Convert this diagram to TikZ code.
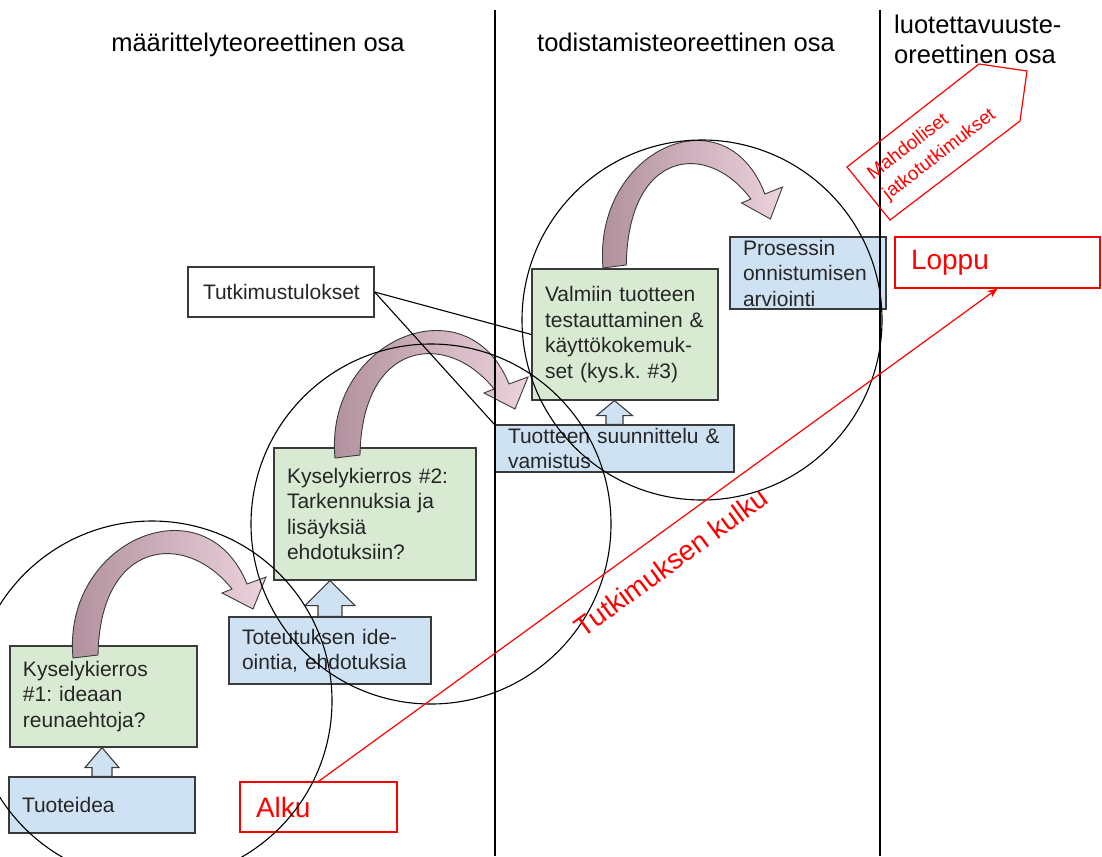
\documentclass[tikz,border=0pt]{standalone}
\usepackage{fontspec}
\setmainfont{Liberation Sans}
\usetikzlibrary{calc,arrows.meta}
\definecolor{greenF}{HTML}{D9EAD3}
\definecolor{blueF}{HTML}{CFE2F3}
\definecolor{bord}{HTML}{3A3A3A}
\definecolor{txt}{HTML}{262626}
\definecolor{redC}{HTML}{FF0000}
\definecolor{mauveD}{HTML}{AE8E9A}
\definecolor{pinkL}{HTML}{ECD2DD}
\frenchspacing
\newcommand\blockup[5]{%
  \draw[blockarr] let \p1=(#1.north), \p2=(#2.south) in
   (\x1-#3pt,\y1) -- (\x1-#3pt,\y2-#5pt) -- (\x1-#4pt,\y2-#5pt) -- (\x1,\y2)
   -- (\x1+#4pt,\y2-#5pt) -- (\x1+#3pt,\y2-#5pt) -- (\x1+#3pt,\y1) -- cycle;}
\tikzset{
 boxbase/.style={rectangle, draw=bord, line width=1.2pt, text=txt,
   font=\fontsize{21}{25.5}\selectfont, align=left, inner xsep=13pt, inner ysep=0pt},
 gbox/.style={boxbase, fill=greenF},
 bbox/.style={boxbase, fill=blueF},
 wbox/.style={boxbase, fill=white, align=center},
 rbox/.style={rectangle, draw=redC, line width=1.2pt, text=redC,
   font=\fontsize{28}{30}\selectfont, align=left, inner xsep=16pt, inner ysep=0pt, fill=white},
 hdr/.style={font=\fontsize{25.5}{30}\selectfont, text=black, inner sep=0pt},
 vline/.style={draw=black, line width=1.3pt},
 ring/.style={draw=black, line width=1.1pt},
 link/.style={draw=black, line width=1.1pt},
 redline/.style={draw=redC, line width=1.2pt},
 blockarr/.style={draw=bord, line width=1.1pt, fill=blueF, line join=miter},
 curvarrow/.pic={
   \shadedraw[left color=mauveD, right color=pinkL, draw=bord, line width=0.9pt]
     (0,0) .. controls (-11,-118) and (132,-178) .. (174,-74) -- (193,-81)
     -- (180,-49) -- (149,-65) -- (159,-69)
     .. controls (112,-128) and (27,-118) .. (25,-3) -- cycle;
 }
}
\begin{document}
\begin{tikzpicture}[x=1pt,y=-1pt]
\clip (0,0) rectangle (1102,856);
\fill[white] (0,0) rectangle (1102,856);

% headers
\node[hdr, anchor=base] (h1) at (258,52) {määrittelyteoreettinen osa};
\node[hdr, anchor=base] (h2) at (686,52) {todistamisteoreettinen osa};
\node[hdr, anchor=north west, align=left] (h3) at (894,15) {luotettavuuste-\\oreettinen osa};

% boxes
\node[bbox, minimum width=186pt, minimum height=56pt, text width=160pt] (tuoteidea) at (102,805) {Tuoteidea};
\node[gbox, minimum width=187pt, minimum height=101pt, text width=161pt] (kys1) at (103.5,696.5) {Kyselykierros\\\#1: ideaan\\reunaehtoja?};
\node[bbox, minimum width=202pt, minimum height=67pt, text width=176pt] (toteutus) at (330,650.5) {Toteutuksen ide-\\ointia, ehdotuksia};
\node[gbox, minimum width=202pt, minimum height=132pt, text width=176pt] (kys2) at (375,514) {Kyselykierros \#2:\\Tarkennuksia ja\\lisäyksiä\\ehdotuksiin?};
\node[bbox, minimum width=239pt, minimum height=47pt, text width=213pt] (tuotteen) at (614.5,448.5) {Tuotteen suunnittelu \&\\vamistus};
\node[gbox, minimum width=186pt, minimum height=131pt, text width=160pt] (valmiin) at (625,334.5) {Valmiin tuotteen\\testauttaminen \&\\käyttökokemuk-\\set (kys.k. \#3)};
\node[bbox, minimum width=156pt, minimum height=72pt, text width=130pt] (prosessin) at (808,273) {Prosessin\\onnistumisen\\arviointi};
\node[wbox, minimum width=186pt, minimum height=50pt, text width=156pt, inner xsep=15pt] (tutk) at (281,292) {Tutkimustulokset};
\node[rbox, minimum width=157pt, minimum height=50pt, text width=125pt] (alku) at (318.5,807) {Alku};
\node[rbox, minimum width=205pt, minimum height=51pt, text width=173pt] (loppu) at (997.5,262.5) {Loppu};

% block up-arrows
\blockup{tuoteidea}{kys1}{10}{17}{20}
\blockup{toteutus}{kys2}{12}{25}{25}
\blockup{tuotteen}{valmiin}{8.5}{18}{15}

% curved arrows
\pic at (73,658) {curvarrow};
\pic at (335,458) {curvarrow};
\pic[xscale=0.93] at (603,268) {curvarrow};

% links from Tutkimustulokset
\draw[link] (tutk.east) -- (valmiin.west);
\draw[link] (tutk.east) -- (tuotteen.north west);

% section lines
\coordinate (v1t) at (495,10); \coordinate (v1b) at (495,856);
\coordinate (v2t) at (880,10); \coordinate (v2b) at (880,856);
\draw[vline] (v1t) -- (v1b);
\draw[vline] (v2t) -- (v2b);

% circles
\draw[ring] (152,701) circle[radius=180pt];
\draw[ring] (431,524) circle[radius=180pt];
\draw[ring] (702,320) circle[radius=180pt];

% red flow
\draw[redline, -{Stealth[length=10pt,width=8pt]}] (alku.north) -- (loppu.south);
\node[text=redC, rotate=36.2, font=\fontsize{28}{30}\selectfont, inner sep=0pt] (kulku) at (671,562) {Tutkimuksen kulku};

% further research arrow
\draw[redline, line join=miter] (847,167) -- (890,220) -- (1020,121) -- (1027,71) -- (979,64) -- cycle;
\node[text=redC, rotate=37.6, align=left, font=\fontsize{19}{25}\selectfont, inner sep=0pt] (mahd) at (932,145) {Mahdolliset\\jatkotutkimukset};
\end{tikzpicture}
\end{document}
